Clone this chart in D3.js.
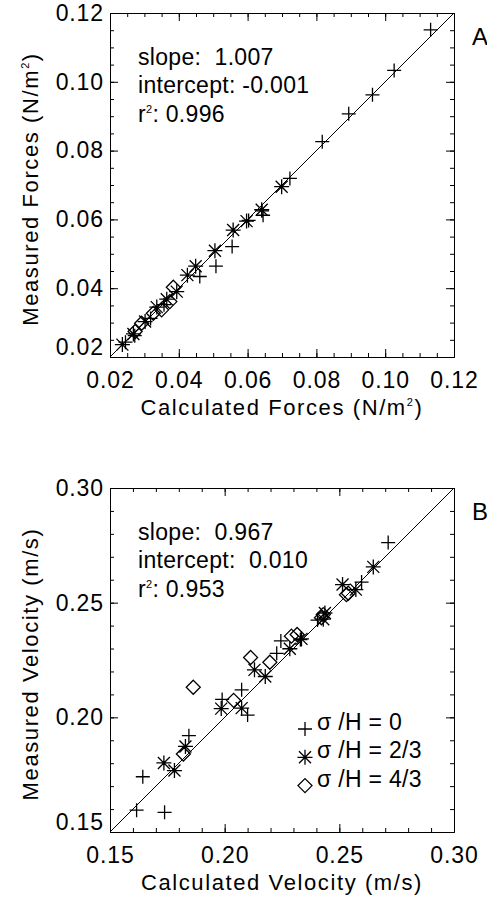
<!DOCTYPE html>
<html>
<head>
<meta charset="utf-8">
<script src="https://cdn.jsdelivr.net/npm/d3@7"></script>
<style>
  body { margin: 0; background: #fff; }
  text { font-family: "Liberation Sans", Arial, sans-serif; fill: #000; white-space: pre; }
</style>
</head>
<body>
<div id="chart-area"></div>
<script>
// panel A: forces (N/m^2)
let forceTicks = [0.02, 0.04, 0.06, 0.08, 0.10, 0.12];
let forcePlusCalc = [0.1132, 0.1026, 0.0963, 0.0894, 0.0817, 0.0723, 0.0645, 0.0642, 0.0555, 0.0508, 0.0461, 0.0603, 0.0245, 0.0272, 0.0318, 0.0357];
let forcePlusMeas = [0.1151, 0.1033, 0.0962, 0.0907, 0.0826, 0.0719, 0.0612, 0.0625, 0.0521, 0.0464, 0.0434, 0.0597, 0.0243, 0.0262, 0.0312, 0.0352];
let forceStarCalc = [0.0236, 0.0268, 0.0302, 0.0336, 0.0365, 0.0394, 0.0425, 0.0449, 0.0505, 0.0558, 0.0597, 0.0641, 0.0699];
let forceStarMeas = [0.0236, 0.0267, 0.0303, 0.0345, 0.0368, 0.0390, 0.0438, 0.0464, 0.0509, 0.0569, 0.0595, 0.0628, 0.0695];
let forceDiaCalc = [0.0273, 0.0292, 0.0326, 0.0350, 0.0374, 0.0384];
let forceDiaMeas = [0.0274, 0.0298, 0.0327, 0.0337, 0.0361, 0.0403];
let forceStats = ["slope:  1.007", "intercept: -0.001", "0.996"];

// panel B: velocity (m/s)
let velTicks = [0.15, 0.20, 0.25, 0.30];
let velPlusCalc = [0.1616, 0.1738, 0.1643, 0.1844, 0.1989, 0.2074, 0.2100, 0.2245, 0.2227, 0.2330, 0.2405, 0.2597, 0.2713];
let velPlusMeas = [0.1595, 0.1586, 0.1741, 0.1920, 0.2078, 0.2120, 0.2010, 0.2333, 0.2279, 0.2339, 0.2424, 0.2590, 0.2762];
let velStarCalc = [0.1735, 0.1781, 0.1829, 0.1985, 0.2074, 0.2130, 0.2177, 0.2284, 0.2335, 0.2437, 0.2430, 0.2514, 0.2572, 0.2648];
let velStarMeas = [0.1801, 0.1768, 0.1873, 0.2038, 0.2040, 0.2207, 0.2178, 0.2299, 0.2342, 0.2455, 0.2428, 0.2579, 0.2557, 0.2656];
let velDiaCalc = [0.1863, 0.1820, 0.2039, 0.2113, 0.2197, 0.2291, 0.2316, 0.2422, 0.2430, 0.2531, 0.2539];
let velDiaMeas = [0.2131, 0.1840, 0.2074, 0.2261, 0.2240, 0.2354, 0.2361, 0.2434, 0.2448, 0.2535, 0.2541];
let velStats = ["slope:  0.967", "intercept:  0.010", "0.953"];
let legendLabels = ["σ /H = 0", "σ /H = 2/3", "σ /H = 4/3"];

// IDL-like plot symbols as d3 symbol types
let plusType = {
    draw: function(ctx, size) {
        let r = Math.sqrt(size) / 2;
        ctx.moveTo(-r, 0); ctx.lineTo(r, 0);
        ctx.moveTo(0, -r); ctx.lineTo(0, r);
    }
};
let starType = {
    draw: function(ctx, size) {
        let r = Math.sqrt(size) / 2;
        let d = r * 0.8;
        ctx.moveTo(-r, 0); ctx.lineTo(r, 0);
        ctx.moveTo(0, -r); ctx.lineTo(0, r);
        ctx.moveTo(-d, -d); ctx.lineTo(d, d);
        ctx.moveTo(-d, d); ctx.lineTo(d, -d);
    }
};
let diamondType = {
    draw: function(ctx, size) {
        let r = Math.sqrt(size) / 2;
        ctx.moveTo(0, -r); ctx.lineTo(r, 0); ctx.lineTo(0, r); ctx.lineTo(-r, 0);
        ctx.closePath();
    }
};
let symbols = [
    {type: plusType, size: 196},
    {type: starType, size: 225},
    {type: diamondType, size: 196}
];

let W = 344, H = 344;

let svg = d3.select('#chart-area')
            .append('svg')
            .attr('width', 487)
            .attr('height', 898);

function superText(sel, before, sup, after) {
    sel.append("tspan").text(before);
    sel.append("tspan").text(sup).attr("font-size", 11).attr("dy", -9);
    sel.append("tspan").text(after).attr("dy", 9);
}

function drawPanel(cfg) {
    let g = svg.append("g").attr("transform", "translate(" + cfg.left + "," + cfg.top + ")");

    let x = d3.scaleLinear().domain(cfg.domain).range([0, W]);
    let y = d3.scaleLinear().domain(cfg.domain).range([H, 0]);

    let minor = d3.range(cfg.domain[0], cfg.domain[1] + 1e-9, cfg.minorStep);

    // minor ticks on all four sides (pointing inward)
    g.append("g").attr("transform", "translate(0," + H + ")")
        .call(d3.axisBottom(x).tickValues(minor).tickSize(-4).tickSizeOuter(0).tickFormat(""));
    g.append("g")
        .call(d3.axisTop(x).tickValues(minor).tickSize(-4).tickSizeOuter(0).tickFormat(""));
    g.append("g")
        .call(d3.axisLeft(y).tickValues(minor).tickSize(-4).tickSizeOuter(0).tickFormat(""));
    g.append("g").attr("transform", "translate(" + W + ",0)")
        .call(d3.axisRight(y).tickValues(minor).tickSize(-4).tickSizeOuter(0).tickFormat(""));

    // major ticks + labels
    g.append("g").attr("transform", "translate(0," + H + ")")
        .call(d3.axisBottom(x).tickValues(cfg.ticks).tickSize(-8).tickSizeOuter(0)
            .tickPadding(15).tickFormat(d3.format(cfg.fmt)));
    g.append("g")
        .call(d3.axisTop(x).tickValues(cfg.ticks).tickSize(-8).tickSizeOuter(0).tickFormat(""));
    let yAxis = g.append("g")
        .call(d3.axisLeft(y).tickValues(cfg.ticks).tickSize(-8).tickSizeOuter(0)
            .tickPadding(6).tickFormat(d3.format(cfg.fmt)));
    g.append("g").attr("transform", "translate(" + W + ",0)")
        .call(d3.axisRight(y).tickValues(cfg.ticks).tickSize(-8).tickSizeOuter(0).tickFormat(""));

    g.selectAll(".domain").attr("stroke", "#000").attr("stroke-width", 1);
    g.selectAll(".tick line").attr("stroke", "#000").attr("stroke-width", 1);
    g.selectAll(".tick text")
        .attr("font-family", "Liberation Sans, Arial, sans-serif")
        .attr("font-size", 23)
        .attr("letter-spacing", 0.9)
        .attr("fill", "#000");
    // lowest y label sits above its tick, as in the original
    yAxis.selectAll(".tick text").filter(function(d) { return d === cfg.domain[0]; })
        .attr("dy", "-0.1em");

    // 1:1 line
    g.append("line")
        .attr("x1", x(cfg.domain[0])).attr("y1", y(cfg.domain[0]))
        .attr("x2", x(cfg.domain[1])).attr("y2", y(cfg.domain[1]))
        .attr("stroke", "#000").attr("stroke-width", 1);

    // data
    cfg.series.forEach(function(s, i) {
        let sym = d3.symbol().type(symbols[i].type).size(symbols[i].size);
        g.selectAll(".pt" + i)
            .data(s.calc.map(function(c, j) { return [c, s.meas[j]]; }))
            .enter()
            .append("path")
            .attr("class", "pt" + i)
            .attr("transform", function(d) { return "translate(" + x(d[0]) + "," + y(d[1]) + ")"; })
            .attr("d", sym)
            .attr("fill", "none")
            .attr("stroke", "#000")
            .attr("stroke-width", 1.3);
    });

    // statistics text
    g.append("text").attr("x", 28).attr("y", 52).attr("font-size", 23)
        .attr("letter-spacing", 0.3).text(cfg.stats[0]);
    g.append("text").attr("x", 28).attr("y", 80).attr("font-size", 23)
        .attr("letter-spacing", 0.3).text(cfg.stats[1]);
    superText(g.append("text").attr("x", 28).attr("y", 108.5).attr("font-size", 23)
        .attr("letter-spacing", 0.3), "r", "2", ": " + cfg.stats[2]);

    // axis titles
    let xt = g.append("text").attr("x", W / 2).attr("y", H + 58)
        .attr("text-anchor", "middle").attr("font-size", 22).attr("letter-spacing", 1.6);
    let yt = g.append("text").attr("transform", "translate(-72," + (H / 2 + 4) + ") rotate(-90)")
        .attr("text-anchor", "middle").attr("font-size", 22).attr("letter-spacing", 1.6);
    if (cfg.sup) {
        superText(xt, cfg.xTitle[0], "2", cfg.xTitle[1]);
        superText(yt, cfg.yTitle[0], "2", cfg.yTitle[1]);
    } else {
        xt.text(cfg.xTitle);
        yt.text(cfg.yTitle);
    }

    // panel letter
    g.append("text").attr("x", 362).attr("y", 32).attr("font-size", 24).text(cfg.letter);

    // legend
    if (cfg.legend) {
        cfg.legend.forEach(function(lab, i) {
            let ly = 242 + i * 28.3;
            g.append("path")
                .attr("transform", "translate(195," + (ly - 1) + ")")
                .attr("d", d3.symbol().type(symbols[i].type).size(symbols[i].size)())
                .attr("fill", "none").attr("stroke", "#000").attr("stroke-width", 1.3);
            g.append("text").attr("x", 207).attr("y", ly).attr("font-size", 23)
                .attr("letter-spacing", 0.3).text(lab);
        });
    }
}

drawPanel({
    left: 110, top: 13, domain: [0.02, 0.12], minorStep: 0.005, ticks: forceTicks, fmt: ".2f",
    series: [
        {calc: forcePlusCalc, meas: forcePlusMeas},
        {calc: forceStarCalc, meas: forceStarMeas},
        {calc: forceDiaCalc, meas: forceDiaMeas}
    ],
    stats: forceStats, sup: true,
    xTitle: ["Calculated Forces (N/m", ")"],
    yTitle: ["Measured Forces (N/m", ")"],
    letter: "A"
});

drawPanel({
    left: 110, top: 488, domain: [0.15, 0.30], minorStep: 0.01, ticks: velTicks, fmt: ".2f",
    series: [
        {calc: velPlusCalc, meas: velPlusMeas},
        {calc: velStarCalc, meas: velStarMeas},
        {calc: velDiaCalc, meas: velDiaMeas}
    ],
    stats: velStats, sup: false,
    xTitle: "Calculated Velocity (m/s)",
    yTitle: "Measured Velocity (m/s)",
    letter: "B", legend: legendLabels
});
</script>
</body>
</html>
